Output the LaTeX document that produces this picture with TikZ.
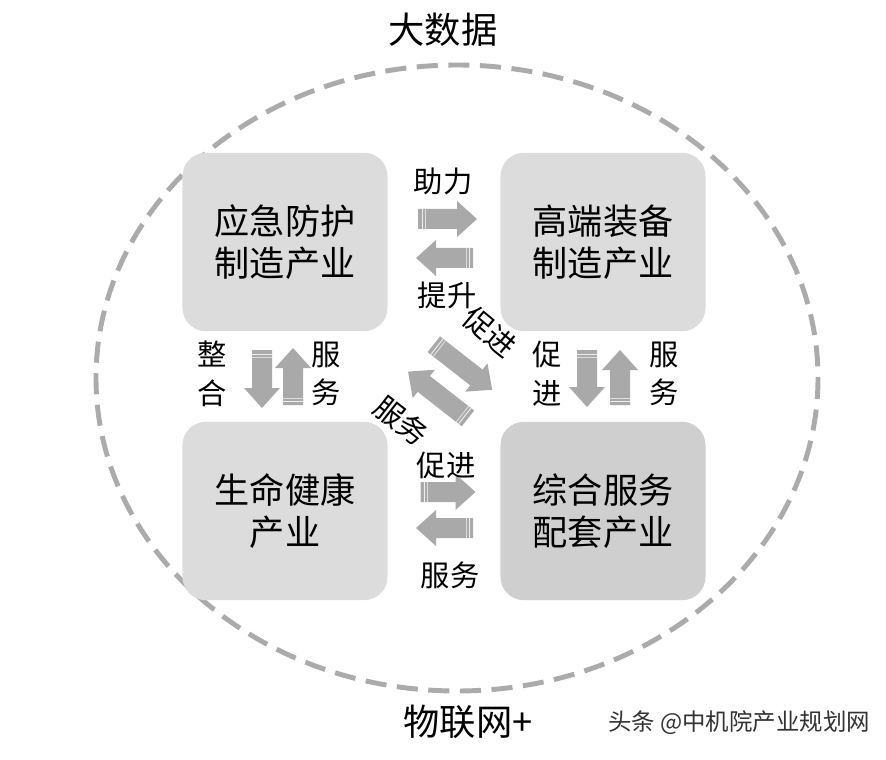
\documentclass[tikz,border=0pt]{standalone}
\usepackage{fontspec}
\setmainfont{Noto Sans CJK SC}
\usetikzlibrary{positioning}

\definecolor{boxgray}{HTML}{DCDCDC}
\definecolor{boxdark}{HTML}{CFCFCF}
\definecolor{arrowgray}{HTML}{A9A9A9}
\definecolor{dashgray}{HTML}{ABABAB}
\definecolor{markgray}{HTML}{333333}

\tikzset{
  industry/.style={fill=boxgray, rounded corners=0.7cm, minimum width=6.15cm,
    minimum height=5.35cm, align=center, font=\fontsize{30}{36}\selectfont},
  tag/.style={font=\fontsize{25}{28}\selectfont, inner sep=0pt},
  vtag/.style={tag, align=center, font=\fontsize{25}{33}\selectfont},
}

% block arrow: x, y, angle, length
\newcommand{\fatarrow}[4]{%
  \begin{scope}[shift={(#1,#2)}, rotate=#3]
    \fill[arrowgray] (-#4/2,-10) -- (#4/2-20,-10) -- (#4/2-20,-18) -- (#4/2,0)
      -- (#4/2-20,18) -- (#4/2-20,10) -- (-#4/2,10) -- cycle;
    \draw[white!80!arrowgray, line width=0.8pt] (-#4/2+4,-10) -- (-#4/2+4,10);
    \draw[white!60!arrowgray, line width=0.8pt] (-#4/2+7,-10) -- (-#4/2+7,10);
  \end{scope}}

\begin{document}
\begin{tikzpicture}[x=0.03cm, y=-0.03cm]
  \useasboundingbox[fill=white] (0,0) rectangle (886,760);

  % outer dashed ellipse
  \draw[dashgray, line width=4.2pt, dash pattern=on 18pt off 9pt]
    (457,378) ellipse [x radius=361, y radius=313];

  % the four industries
  \node[industry] (protect) at (285,242) {应急防护\\制造产业};
  \node[industry] (equip) at (603,242) {高端装备\\制造产业};
  \node[industry] (health) at (285,511) {生命健康\\产业};
  \node[industry, fill=boxdark] (service) at (603,511) {综合服务\\配套产业};

  % arrows between them
  \fatarrow{447.5}{219}{0}{59}
  \fatarrow{444.5}{258}{180}{57}
  \fatarrow{448}{492}{0}{55}
  \fatarrow{444.5}{528}{180}{57}
  \fatarrow{262}{379}{-90}{58}
  \fatarrow{293}{376.5}{90}{57}
  \fatarrow{587}{378.5}{-90}{57}
  \fatarrow{620}{377.5}{90}{55}
  \fatarrow{463}{367}{-38}{74}
  \fatarrow{438}{395}{142}{76}

  % labels
  \node[tag] (zhuli) at (443,181) {助力};
  \node[tag] (tisheng) at (447,295) {提升};
  \node[vtag] (zhenghe) at (212,374) {整\\合};
  \node[vtag] (fuwuL) at (326,374) {服\\务};
  \node[vtag] (cujinR) at (547,374) {促\\进};
  \node[vtag] (fuwuR) at (664,374) {服\\务};
  \node[tag, rotate=-40] (cujinD) at (490,332) {促进};
  \node[tag, rotate=-38] (fuwuD) at (401,421) {服务};
  \node[tag] (cujinB) at (446,465) {促进};
  \node[tag] (fuwuB) at (450,575) {服务};

  \node[font=\fontsize{31}{34}\selectfont] (bigdata) at (443,30) {大数据};
  \node[font=\fontsize{31}{34}\selectfont] (iot) at (468,722) {物联网+};
  \node[font=\fontsize{20}{22}\selectfont, text=markgray] (mark) at (739,723) {头条 @中机院产业规划网};
\end{tikzpicture}
\end{document}
